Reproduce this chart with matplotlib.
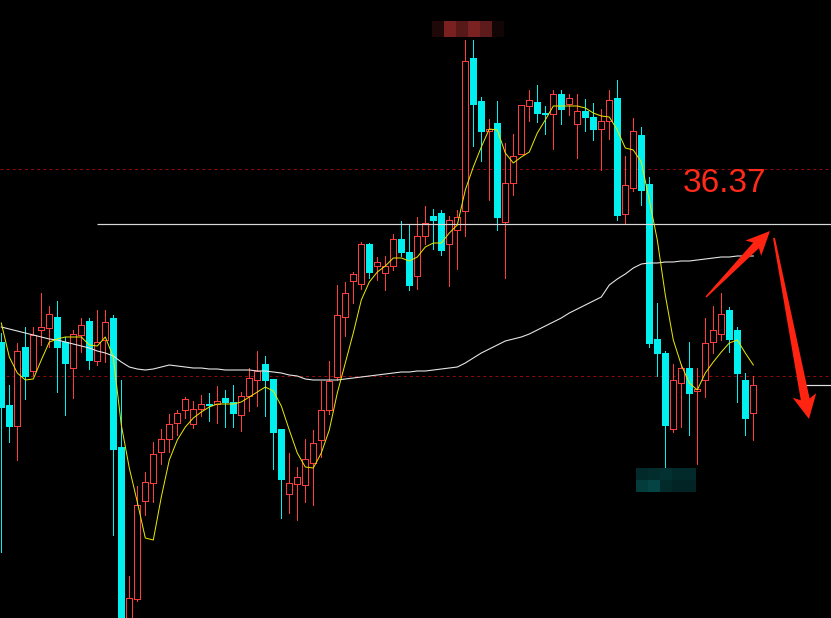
import numpy as np
import matplotlib.pyplot as plt
from matplotlib.patches import Polygon

plt.rcParams['lines.scale_dashes'] = False

# daily candles (price units)
opens = [34.64, 34.01, 33.80, 34.59, 34.35, 34.76, 34.78, 34.89, 34.64, 34.38,
         34.71, 34.85, 34.45, 34.66, 34.88, 33.59, 31.76, 32.07, 33.05, 33.23,
         33.54, 33.67, 33.83, 33.96, 33.82, 33.97, 34.02, 34.02, 34.08, 34.04,
         33.91, 34.10, 34.26, 34.42, 34.27, 33.77, 33.12, 33.22, 33.21, 33.43,
         33.66, 33.96, 34.29, 34.89, 35.25, 35.22, 35.62, 35.40, 35.33, 35.40,
         35.67, 35.54, 35.30, 35.70, 35.90, 35.93, 35.62, 35.76, 35.95, 37.48,
         37.05, 36.75, 36.83, 35.84, 36.23, 36.52, 37.00, 37.04, 36.93, 36.92,
         37.12, 37.02, 36.82, 36.95, 36.89, 36.77, 36.85, 37.08, 35.92, 36.18,
         36.71, 36.22, 34.67, 34.53, 33.77, 34.23, 34.38, 34.15, 34.26, 34.64,
         34.72, 34.96, 34.76, 34.26, 33.93]
highs = [34.73, 34.21, 34.63, 34.79, 34.79, 35.13, 35.00, 35.05, 34.69, 34.76,
         34.88, 34.88, 34.96, 34.96, 34.91, 34.26, 32.30, 33.20, 33.34, 33.64,
         33.77, 33.92, 33.96, 34.09, 34.05, 34.11, 34.13, 34.20, 34.16, 34.21,
         34.14, 34.38, 34.55, 34.50, 34.27, 33.77, 33.53, 33.39, 33.67, 33.76,
         34.25, 34.45, 35.21, 35.24, 35.34, 35.64, 35.63, 35.49, 35.50, 35.72,
         35.85, 35.82, 35.89, 36.00, 35.97, 35.96, 35.90, 35.96, 37.66, 37.66,
         37.09, 36.87, 37.05, 36.63, 36.72, 37.01, 37.16, 37.21, 37.00, 37.16,
         37.16, 37.12, 37.12, 37.07, 37.03, 36.97, 37.16, 37.26, 36.50, 36.88,
         36.79, 36.29, 35.03, 34.55, 34.42, 34.42, 34.64, 34.38, 34.88, 35.00,
         35.13, 34.99, 34.79, 34.33, 34.30]
lows = [32.54, 33.64, 33.46, 34.07, 34.31, 34.61, 34.59, 34.14, 33.91, 34.08,
        34.54, 34.37, 34.41, 34.44, 32.71, 31.56, 31.66, 32.05, 32.91, 33.04,
        33.42, 33.54, 33.71, 33.88, 33.78, 33.90, 33.85, 33.83, 33.79, 33.79,
        33.75, 33.95, 34.00, 33.90, 33.37, 32.88, 32.93, 32.86, 33.04, 33.01,
        33.49, 33.92, 34.26, 34.70, 35.03, 35.17, 35.28, 35.26, 35.16, 35.36,
        35.50, 35.16, 35.17, 35.62, 35.57, 35.51, 35.20, 35.37, 35.70, 36.60,
        36.45, 36.06, 35.76, 35.28, 36.11, 36.52, 36.85, 36.84, 36.72, 36.57,
        36.82, 36.91, 36.48, 36.75, 36.66, 36.36, 36.67, 35.86, 35.82, 36.15,
        36.01, 34.59, 34.30, 33.36, 33.74, 33.79, 33.71, 33.42, 34.09, 34.53,
        34.66, 34.54, 34.04, 33.71, 33.66]
closes = [33.98, 33.79, 34.55, 34.29, 34.71, 34.79, 34.92, 34.58, 34.42, 34.72,
          34.81, 34.45, 34.64, 34.84, 33.56, 31.66, 32.08, 33.01, 33.24, 33.52,
          33.67, 33.82, 33.93, 34.07, 33.97, 34.02, 34.00, 34.05, 34.03, 33.92,
          34.10, 34.28, 34.35, 34.25, 33.73, 33.26, 33.23, 33.29, 33.47, 33.63,
          33.96, 34.25, 34.91, 35.13, 35.32, 35.62, 35.33, 35.44, 35.40, 35.67,
          35.53, 35.20, 35.70, 35.83, 35.85, 35.55, 35.86, 35.89, 37.45, 37.01,
          36.74, 36.77, 35.88, 36.23, 36.50, 37.01, 37.06, 36.92, 36.91, 37.12,
          36.96, 37.08, 36.95, 36.88, 36.76, 36.85, 37.06, 35.90, 36.21, 36.75,
          36.15, 34.62, 34.52, 33.80, 34.26, 34.38, 34.12, 34.17, 34.63, 34.76,
          34.92, 34.66, 34.32, 33.87, 34.21]

# short moving average (yellow) and long moving average (white)
ma_short = [34.83, 34.49, 34.33, 34.26, 34.27, 34.46, 34.64, 34.67, 34.69, 34.69,
            34.69, 34.61, 34.60, 34.69, 34.49, 33.81, 33.38, 33.04, 32.68, 32.66,
            33.09, 33.46, 33.66, 33.79, 33.88, 33.94, 33.99, 34.02, 34.02, 34.02,
            34.04, 34.09, 34.14, 34.19, 34.15, 34.00, 33.76, 33.53, 33.39, 33.38,
            33.53, 33.76, 34.13, 34.43, 34.73, 35.06, 35.24, 35.34, 35.40, 35.48,
            35.48, 35.45, 35.49, 35.59, 35.63, 35.63, 35.73, 35.81, 36.16, 36.39,
            36.59, 36.77, 36.76, 36.53, 36.43, 36.49, 36.54, 36.73, 36.86, 37.00,
            37.00, 37.00, 37.00, 36.98, 36.93, 36.90, 36.89, 36.76, 36.58, 36.56,
            36.44, 36.06, 35.66, 35.11, 34.66, 34.41, 34.23, 34.16, 34.33, 34.44,
            34.54, 34.63, 34.66, 34.53, 34.41]
ma_long = [34.79, 34.77, 34.75, 34.73, 34.71, 34.69, 34.67, 34.66, 34.64, 34.62,
           34.60, 34.58, 34.55, 34.53, 34.50, 34.44, 34.39, 34.37, 34.36, 34.37,
           34.39, 34.41, 34.40, 34.39, 34.38, 34.38, 34.37, 34.37, 34.36, 34.36,
           34.36, 34.36, 34.35, 34.35, 34.34, 34.33, 34.31, 34.30, 34.27, 34.26,
           34.26, 34.26, 34.26, 34.27, 34.28, 34.29, 34.30, 34.31, 34.32, 34.33,
           34.34, 34.34, 34.35, 34.35, 34.36, 34.37, 34.38, 34.39, 34.43, 34.48,
           34.53, 34.57, 34.61, 34.65, 34.67, 34.69, 34.72, 34.76, 34.80, 34.84,
           34.88, 34.93, 34.97, 35.01, 35.05, 35.09, 35.21, 35.27, 35.32, 35.38,
           35.42, 35.43, 35.43, 35.44, 35.44, 35.45, 35.45, 35.46, 35.47, 35.48,
           35.49, 35.49, 35.50, 35.50, 35.50]

level_line = 35.82
grid_levels = [36.37, 34.30]
label_text = '36.37'

UP = '#ff3c3c'
DOWN = '#00f0f0'
PX = 0.72  # one pixel in points

# screen pixel -> data helpers (8 px per candle, 100 px per price unit)
def kx(x):
    return (x - 1.3) / 8

def py(y):
    return 38.06 - y / 100

def arrow(x0, y0, x1, y1, w_tail, w_shaft, w_head, l_head):
    # tapered arrow with a slightly barbed head, built in pixel space
    p0 = np.array([x0, y0], float)
    p1 = np.array([x1, y1], float)
    d = p1 - p0
    u = d / np.hypot(*d)
    n = np.array([-u[1], u[0]])
    base = p1 - u * l_head
    barb = base - u * 4
    pts = [p0 + n * w_tail / 2, base + n * w_shaft / 2, barb + n * w_head / 2,
           p1, barb - n * w_head / 2, base - n * w_shaft / 2,
           p0 - n * w_tail / 2]
    return [(kx(p[0]), py(p[1])) for p in pts]


fig = plt.figure(figsize=(8.31, 6.18), dpi=100, facecolor='black')
ax = fig.add_axes([0, 0, 1, 1])
ax.set_facecolor('black')
ax.axis('off')

for lv in grid_levels:
    ax.axhline(lv, color='#8c0a0a', lw=PX, ls=(0, (2.2, 2.2)), zorder=1)

for i in range(len(opens)):
    o, h, l, c = opens[i], highs[i], lows[i], closes[i]
    if c >= o:
        top, bot = c, o
        ax.vlines(i, top, h, color=UP, lw=PX, antialiased=False, zorder=2)
        ax.vlines(i, l, bot, color=UP, lw=PX, antialiased=False, zorder=2)
        ax.bar(i, max(top - bot, 0.015), width=0.75, bottom=bot, facecolor='black',
               edgecolor=UP, linewidth=PX, antialiased=False, zorder=3)
    else:
        ax.vlines(i, l, h, color=DOWN, lw=PX, antialiased=False, zorder=2)
        ax.bar(i, o - c, width=0.875, bottom=c, color=DOWN, linewidth=0,
               antialiased=False, zorder=3)

idx = np.arange(len(opens))
ax.plot(idx, ma_long, color='#e6e6e6', lw=1.1 * PX, zorder=4)
ax.plot(idx, ma_short, color='#e8e800', lw=PX, zorder=5)

ax.hlines(level_line, kx(97), kx(835), color='#d8d8d8', lw=1.2 * PX, zorder=4)
ax.hlines(closes[-1], kx(805), kx(835), color='#e0e0e0', lw=1.2 * PX, zorder=4)

ax.text(kx(724.5), py(192), label_text, color='#ff2a1a', fontsize=24,
        family=['Liberation Sans', 'DejaVu Sans'], ha='center', va='baseline', zorder=6)

ax.add_patch(Polygon(arrow(706, 297, 770, 231, 1.5, 8, 22, 20), closed=True,
                     color='#ff2412', lw=0, zorder=6))
ax.add_patch(Polygon(arrow(774, 238, 809, 419, 2, 9, 24, 20), closed=True,
                     color='#ff2412', lw=0, zorder=6))

# pixelated (censored) price labels
top_box = [['#1f0808', '#7a2020', '#571818', '#7a2222', '#5e1b1b', '#120505']]
bot_box = [['#032a2a', '#032c2c', '#033030', '#032a2a', '#032a2a'],
           ['#043c3c', '#044444', '#032a2a', '#022424', '#022424']]
for box, (x0, x1, y0, y1) in [(top_box, (432, 504, 21, 37)), (bot_box, (636, 696, 468, 492))]:
    rows, cols = len(box), len(box[0])
    for r in range(rows):
        for cc in range(cols):
            xa = x0 + (x1 - x0) * cc / cols
            xb = x0 + (x1 - x0) * (cc + 1) / cols
            ya = y0 + (y1 - y0) * r / rows
            yb = y0 + (y1 - y0) * (r + 1) / rows
            ax.fill_between([kx(xa), kx(xb)], py(ya), py(yb), color=box[r][cc],
                            lw=0, zorder=7)

ax.set_xlim(kx(0), kx(831))
ax.set_ylim(py(618), py(0))

fig.savefig('out.png', dpi=100, facecolor='black')
